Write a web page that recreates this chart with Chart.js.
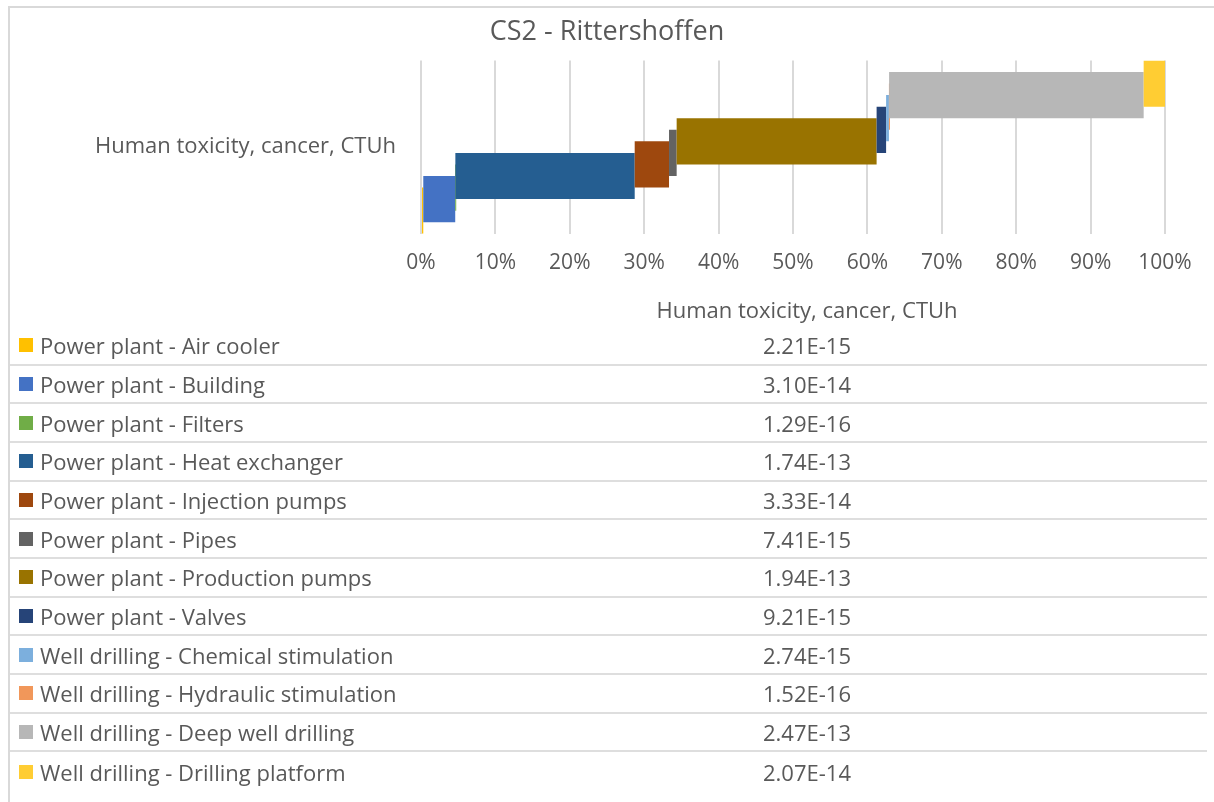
<!DOCTYPE html>
<html>
<head>
<meta charset="utf-8">
<script src="https://cdn.jsdelivr.net/npm/chart.js@4/dist/chart.umd.min.js"></script>
<style>
  html, body { margin: 0; padding: 0; background: #fff; overflow: hidden; }
  body { width: 1214px; height: 802px; position: relative; font-family: 'Open Sans', sans-serif; color: #595959; }
  #frame { position: absolute; left: 8px; top: 6px; width: 1300px; height: 900px; border-top: 2px solid #d9d9d9; border-left: 2px solid #d9d9d9; }
  #chartWrap { position: absolute; left: 0; top: 0; width: 1214px; height: 308px; }
  #dataTable { position: absolute; left: 10px; top: 290px; width: 1197px; }
  .head { height: 37px; display: flex; align-items: center; font-size: 22px; }
  .row { height: 38.67px; box-sizing: border-box; border-bottom: 2px solid #dedede; display: flex; align-items: center; font-size: 22px; }
  .row:last-child { border-bottom: none; }
  .key { width: 397px; display: flex; align-items: center; white-space: nowrap; }
  .swatch { width: 14px; height: 14px; margin-left: 9px; margin-right: 7px; flex: none; }
  .val { width: 800px; text-align: center; }
</style>
</head>
<body>
<div id="frame"></div>
<div id="chartWrap"><canvas id="impactChart" width="1214" height="308"></canvas></div>
<div id="dataTable"></div>
<script>
// Contributions per component, CS2 - Rittershoffen
const title = 'CS2 - Rittershoffen';
const impactLabel = 'Human toxicity, cancer, CTUh';
const categories = [
  'Power plant - Air cooler',
  'Power plant - Building',
  'Power plant - Filters',
  'Power plant - Heat exchanger',
  'Power plant - Injection pumps',
  'Power plant - Pipes',
  'Power plant - Production pumps',
  'Power plant - Valves',
  'Well drilling - Chemical stimulation',
  'Well drilling - Hydraulic stimulation',
  'Well drilling - Deep well drilling',
  'Well drilling - Drilling platform'
];
const values = [
  2.21e-15, 3.10e-14, 1.29e-16, 1.74e-13, 3.33e-14, 7.41e-15,
  1.94e-13, 9.21e-15, 2.74e-15, 1.52e-16, 2.47e-13, 2.07e-14
];
const colors = [
  '#FFC000', '#4472C4', '#70AD47', '#255E91', '#9E480E', '#636363',
  '#997300', '#264478', '#7CAFDD', '#F1975A', '#B7B7B7', '#FFCD33'
];

const textColor = '#595959';
Chart.defaults.font.family = "'Open Sans', sans-serif";
Chart.defaults.color = textColor;

// 100% stacked look: each series is a floating bar [start, end] in percent
const total = values.reduce((a, b) => a + b, 0);
let running = 0;
const segments = values.map(v => {
  const start = running / total * 100;
  running += v;
  return [start, running / total * 100];
});

// first dataset sits at the top in Chart.js, Excel puts the first series at the bottom
const datasets = categories.map((name, i) => ({
  label: name,
  data: [segments[i]],
  backgroundColor: colors[i],
  categoryPercentage: 0.8,
  barPercentage: 4,
  minBarLength: 1
})).reverse();

new Chart(document.getElementById('impactChart').getContext('2d'), {
  type: 'bar',
  data: { labels: [impactLabel], datasets: datasets },
  options: {
    indexAxis: 'y',
    responsive: false,
    animation: false,
    layout: { padding: { left: 49, right: 49, top: 0, bottom: 15 } },
    plugins: {
      legend: { display: false },
      tooltip: { enabled: false },
      title: {
        display: true,
        text: title,
        color: textColor,
        font: { size: 27, weight: 'normal' },
        padding: { top: 16, bottom: 12 }
      }
    },
    scales: {
      x: {
        min: 0,
        max: 100,
        ticks: { stepSize: 10, callback: v => v + '%', color: textColor, font: { size: 21 }, padding: 17 },
        grid: { color: '#d9d9d9', lineWidth: 2, drawTicks: false },
        border: { display: false }
      },
      y: {
        grid: { display: false },
        border: { display: false },
        ticks: { color: textColor, font: { size: 22 }, padding: 17 },
        afterFit: scale => { scale.width = 372; }
      }
    }
  }
});

// data table under the chart
const table = document.getElementById('dataTable');
let html = '<div class="head"><div class="key"></div><div class="val">' + impactLabel + '</div></div>';
categories.forEach((name, i) => {
  html += '<div class="row"><div class="key"><span class="swatch" style="background:' + colors[i] + '"></span>' +
    name + '</div><div class="val">' + values[i].toExponential(2).toUpperCase() + '</div></div>';
});
table.innerHTML = html;
</script>
</body>
</html>
